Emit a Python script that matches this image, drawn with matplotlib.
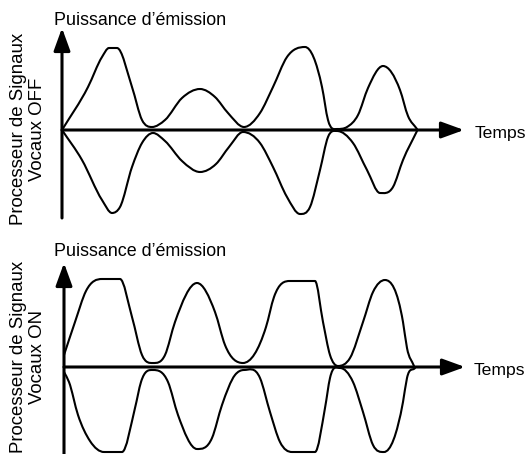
import numpy as np
import matplotlib
matplotlib.use("Agg")
import matplotlib.pyplot as plt
from matplotlib.path import Path
from matplotlib.patches import PathPatch

plt.rcParams['font.family'] = ['Liberation Sans', 'DejaVu Sans']

# ---- Envelope data: (time, amplitude) pairs, upper and lower envelopes ----
# Voice processor OFF
off_upper_t = [0, 26, 40, 47, 55, 70, 80, 90, 103, 120, 138, 153, 166, 182, 198, 211, 225, 243, 260, 266, 275, 285, 296, 306, 321, 338, 346, 355]
off_upper_a = [0, 43, 73, 82, 82, 43, 10, 3, 10, 32, 41, 33, 17, 3, 17, 43, 73, 83, 43, 10, 1, 3, 15, 42, 64, 40, 14, 1]
off_lower_t = [0, 20, 40, 50, 58, 70, 80, 91, 103, 120, 138, 154, 167, 181, 198, 211, 225, 238, 248, 258, 266, 275, 291, 305, 318, 331, 341, 355]
off_lower_a = [0, -30, -70, -83, -77, -37, -13, -3, -11, -31, -42, -34, -17, -2, -13, -37, -67, -84, -77, -40, -7, -1, -13, -40, -63, -57, -30, -1]

# Voice processor ON
on_upper_t = [0, 11, 22, 38, 56, 68, 78, 89, 101, 111, 133, 151, 161, 179, 202, 210, 226, 251, 259, 266, 274, 286, 299, 309, 321, 339, 343, 350]
on_upper_a = [12, 45, 76, 88, 88, 50, 12, 4, 12, 45, 84, 55, 22, 4, 40, 70, 86, 86, 45, 12, 1, 9, 45, 75, 87, 45, 19, 1]
on_lower_t = [0, 5, 14, 26, 40, 58, 71, 77, 89, 104, 114, 133, 148, 158, 171, 180, 196, 206, 216, 228, 251, 261, 266, 276, 289, 299, 309, 320, 339, 343, 351]
on_lower_a = [-5, -15, -48, -74, -85, -85, -41, -15, -3, -15, -48, -82, -71, -38, -8, -3, -11, -45, -75, -85, -85, -41, -11, -1, -15, -45, -78, -85, -35, -11, -1]

panel_titles = ["Processeur de Signaux\nVocaux OFF", "Processeur de Signaux\nVocaux ON"]
y_axis_label = "Puissance d\u2019émission"
x_axis_label = "Temps"

W, H, DPI = 530, 454, 100


def hermite_slopes(t, a):
    """Three-point derivative estimates, flat at local extrema."""
    t = np.asarray(t, float)
    a = np.asarray(a, float)
    h = np.diff(t)
    d = np.diff(a) / h
    m = np.zeros_like(a)
    for k in range(1, len(a) - 1):
        if d[k - 1] * d[k] > 0:
            m[k] = (h[k] * d[k - 1] + h[k - 1] * d[k]) / (h[k - 1] + h[k])
    m[0] = d[0]
    m[-1] = d[-1]
    return m


def smooth_path(t, a):
    """Cubic Hermite curve through the points as Bezier segments."""
    t = np.asarray(t, float)
    a = np.asarray(a, float)
    m = hermite_slopes(t, a)
    verts = [(t[0], a[0])]
    codes = [Path.MOVETO]
    for i in range(len(t) - 1):
        dt = t[i + 1] - t[i]
        verts += [(t[i] + dt / 3, a[i] + m[i] * dt / 3),
                  (t[i + 1] - dt / 3, a[i + 1] - m[i + 1] * dt / 3),
                  (t[i + 1], a[i + 1])]
        codes += [Path.CURVE4] * 3
    return Path(verts, codes)


def draw_panel(ax, upper, lower, title, origin_x, origin_y, top_px, bot_px,
               y_tip, y_end, x_tip, header_pos, temps_pos, label_pos):
    # one data unit per pixel, origin where the axes cross
    ax.set_xlim(-origin_x, W - origin_x)
    ax.set_ylim(-(bot_px - origin_y), origin_y - top_px)
    ax.axis("off")

    arrow = dict(arrowstyle="-|>,head_length=0.55,head_width=0.2", lw=2.2,
                 color="black", shrinkA=0, shrinkB=0, mutation_scale=25)
    ax.annotate("", xy=(0, y_tip), xytext=(0, y_end), arrowprops=arrow)
    ax.annotate("", xy=(x_tip, 0), xytext=(0, 0), arrowprops=arrow)

    for t, a in (upper, lower):
        ax.add_patch(PathPatch(smooth_path(t, a), fill=False, lw=1.5,
                               edgecolor="black", capstyle="round", joinstyle="round"))

    ax.text(header_pos[0], header_pos[1], y_axis_label, fontsize=12.9,
            ha="left", va="baseline")
    ax.text(temps_pos[0], temps_pos[1], x_axis_label, fontsize=12.6,
            ha="left", va="baseline")
    ax.text(label_pos[0], label_pos[1], title, fontsize=13.4, rotation=90, ha="center",
            va="center", multialignment="center", linespacing=1.1)


fig = plt.figure(figsize=(W / DPI, H / DPI), dpi=DPI)

ax_top = fig.add_axes([0, 0.5, 1, 0.5])
draw_panel(ax_top, (off_upper_t, off_upper_a), (off_lower_t, off_lower_a),
           panel_titles[0], origin_x=62, origin_y=130, top_px=0, bot_px=227,
           y_tip=102, y_end=-88, x_tip=402, header_pos=(-8, 105),
           temps_pos=(413, -8), label_pos=(-34, 1))

ax_bot = fig.add_axes([0, 0, 1, 0.5])
draw_panel(ax_bot, (on_upper_t, on_upper_a), (on_lower_t, on_lower_a),
           panel_titles[1], origin_x=64, origin_y=367, top_px=227, bot_px=454,
           y_tip=104, y_end=-90, x_tip=401, header_pos=(-10, 111),
           temps_pos=(410, -8), label_pos=(-36, 10))

fig.savefig("out.png", dpi=DPI)
